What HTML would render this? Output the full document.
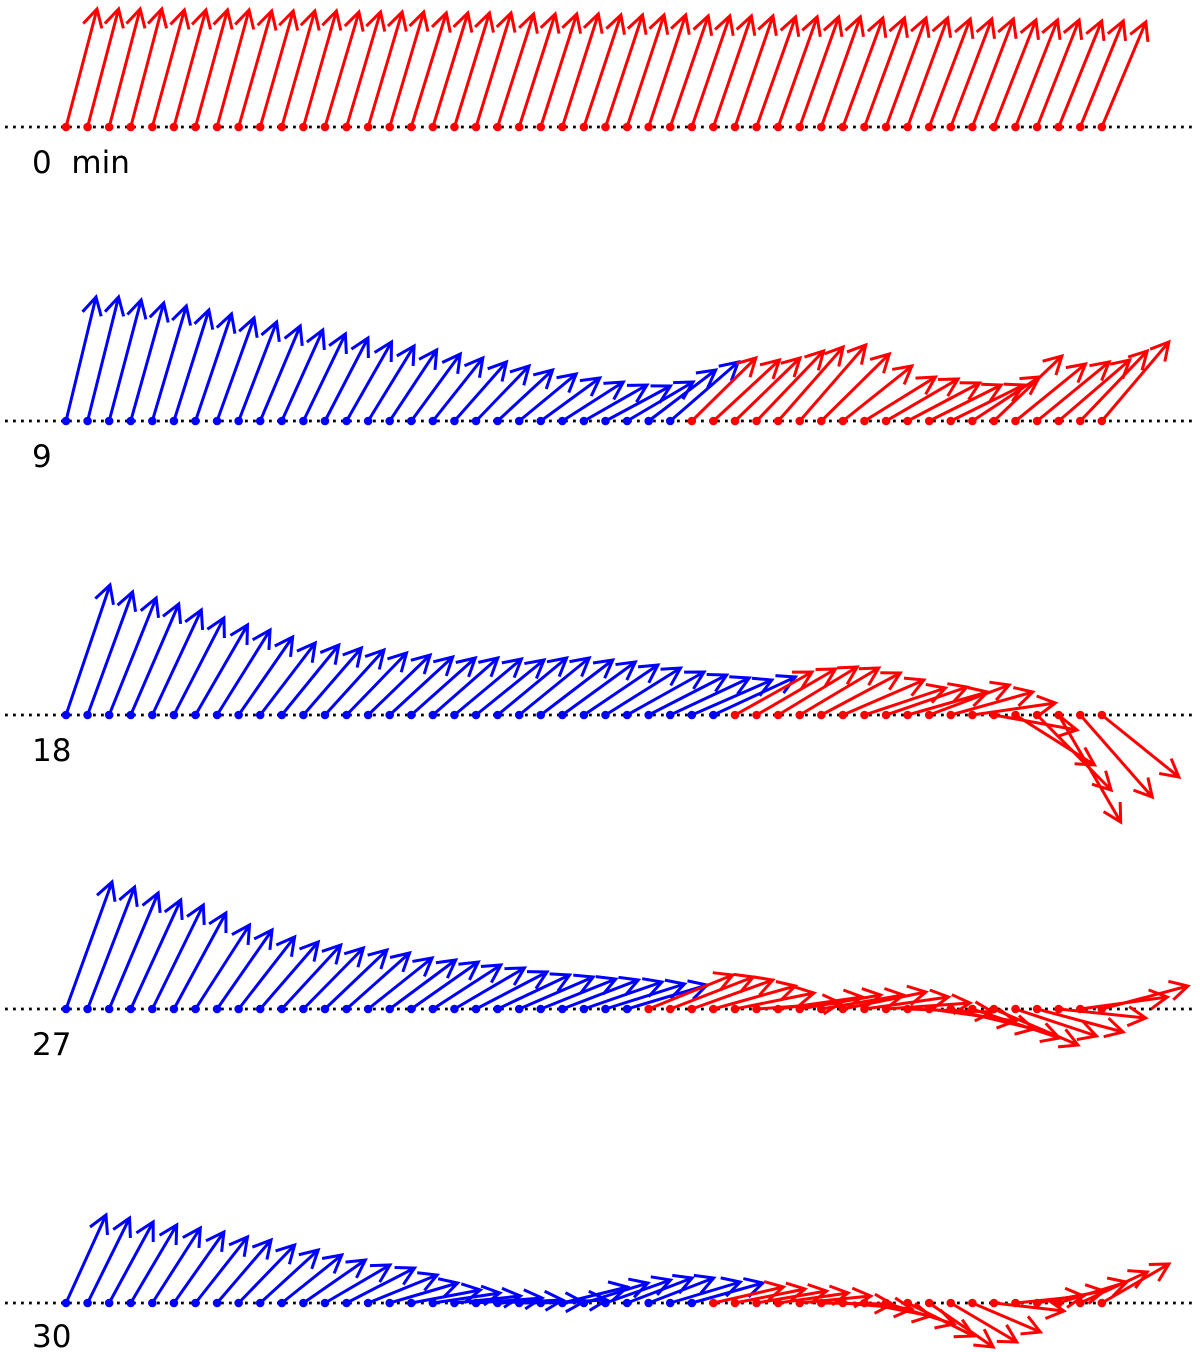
<!DOCTYPE html>
<html><head><meta charset="utf-8"><style>
html,body{margin:0;padding:0;background:#fff}
svg{display:block}
text{font-family:"DejaVu Sans","Liberation Sans",sans-serif;font-size:31px;fill:#000}
</style></head><body>
<svg id="chart" width="1200" height="1352" viewBox="0 0 1200 1352" xmlns="http://www.w3.org/2000/svg">
<text x="32" y="173">0&#160;&#160;min</text>
<text x="32" y="467">9</text>
<text x="32" y="761">18</text>
<text x="32" y="1055">27</text>
<text x="32" y="1347">30</text>
</svg>
<script>
const panelTimes=[0,9,18,27,30];
const baselines=[127,421,715,1009,1303];
const blueCounts=[0,29,31,27,30];
const dx0=[31,31,31,31,32,32,32,32,33,33,33,33,34,34,34,34,35,35,35,35,36,36,36,36,37,37,37,37,38,38,38,38,39,39,39,39,40,40,40,40,41,41,41,42,42,42,43,43,44];
const dy0=[-118,-118,-118,-118,-117,-117,-117,-117,-116,-116,-116,-116,-115,-115,-115,-115,-114,-114,-114,-114,-113,-113,-113,-113,-112,-112,-112,-112,-111,-111,-111,-111,-110,-110,-110,-110,-109,-109,-109,-109,-108,-108,-108,-107,-107,-107,-106,-106,-105];
const dx9=[30,31,32,33,34,35,36,37,38,40,41,42,43,45,46,47,49,50,52,53,55,57,59,61,63,65,66,67,68,
 64,66,65,67,65,66,68,69,71,72,72,72,73,67,68,70,72,71,67,67];
const dy9=[-124,-124,-121,-118,-115,-111,-107,-103,-99,-95,-91,-87,-83,-79,-75,-71,-67,-63,-59,-55,-51,-47,-43,-39,-36,-35,-39,-51,-59,
 -63,-61,-63,-70,-74,-76,-67,-55,-44,-42,-38,-36,-36,-44,-65,-57,-59,-61,-70,-79];
const dx18=[44,45,47,48,49,50,52,53,54,55,57,58,59,60,62,63,64,65,67,68,69,70,72,73,74,75,77,78,79,80,82,
 77,79,79,79,79,81,81,81,80,80,82,83,83,79,74,62,72,77];
const dy18=[-130,-123,-117,-111,-105,-97,-90,-85,-78,-72,-70,-67,-65,-62,-60,-58,-57,-57,-56,-55,-57,-57,-55,-53,-50,-47,-43,-40,-37,-35,-38,
 -43,-46,-48,-47,-42,-35,-27,-28,-23,-30,-23,-12,15,50,75,107,82,62];
const dx27=[46,47,49,50,51,52,54,55,56,58,59,60,62,63,64,66,67,68,70,71,72,74,75,76,78,79,80,
 84,83,81,82,79,84,84,81,82,83,84,84,85,86,83,87,84,81,86,87,87,86];
const dy27=[-127,-122,-116,-109,-104,-96,-84,-79,-72,-67,-64,-61,-59,-56,-51,-49,-47,-44,-41,-37,-34,-32,-30,-29,-27,-25,-24,
 -34,-32,-29,-23,-16,-6,-12,-14,-14,-17,-12,-6,3,12,20,29,36,27,23,9,-12,-23];
const dx30=[40,42,44,46,48,50,52,54,56,58,60,62,65,68,69,68,69,67,66,66,65,64,66,65,64,65,65,65,70,71,
 70,70,70,70,71,71,69,66,68,66,64,66,68,70,68,67,68,67,67];
const dy30=[-88,-85,-81,-78,-75,-71,-66,-63,-58,-53,-48,-43,-38,-35,-28,-20,-13,-10,-7,-5,-3,-1,-3,-16,-20,-23,-25,-25,-21,-20,
 -16,-14,-12,-10,-7,1,6,13,21,33,44,39,29,8,-7,-12,-21,-31,-39];
const allDx=[dx0,dx9,dx18,dx27,dx30];
const allDy=[dy0,dy9,dy18,dy27,dy30];

const NS="http://www.w3.org/2000/svg";
const svg=document.getElementById('chart');
const x0=66, step=21.58;
function xScale(i){return x0+i*step;}
function mk(tag,attrs){const e=document.createElementNS(NS,tag);for(const k in attrs)e.setAttribute(k,attrs[k]);return e;}

panelTimes.forEach((t,p)=>{
  const by=baselines[p];
  const g=mk('g',{});
  
  
  svg.appendChild(g);
  const base=mk('line',{x1:5,y1:by,x2:1196,y2:by,stroke:'#000','stroke-width':2.8,'stroke-dasharray':'2.8 5.2'});
  
  
  g.appendChild(base);
  const dxs=allDx[p], dys=allDy[p];
  for(let i=0;i<dxs.length;i++){
    const col=i<blueCounts[p]?'#0000ff':'#ff0000';
    const x=xScale(i), tx=x+dxs[i], ty=by+dys[i];
    const ang=Math.atan2(ty-by,tx-x), L=20, a=0.5;
    const hx1=tx-L*Math.cos(ang-a), hy1=ty-L*Math.sin(ang-a);
    const hx2=tx-L*Math.cos(ang+a), hy2=ty-L*Math.sin(ang+a);
    const ar=mk('path',{d:`M${x},${by}L${tx},${ty}M${hx1},${hy1}L${tx},${ty}L${hx2},${hy2}`,stroke:col,'stroke-width':3,fill:'none','stroke-linejoin':'miter'});
    
    
    g.appendChild(ar);
    const d=mk('circle',{cx:x,cy:by,r:4.3,fill:col});
    
    
    g.appendChild(d);
  }
});
</script>
</body></html>
